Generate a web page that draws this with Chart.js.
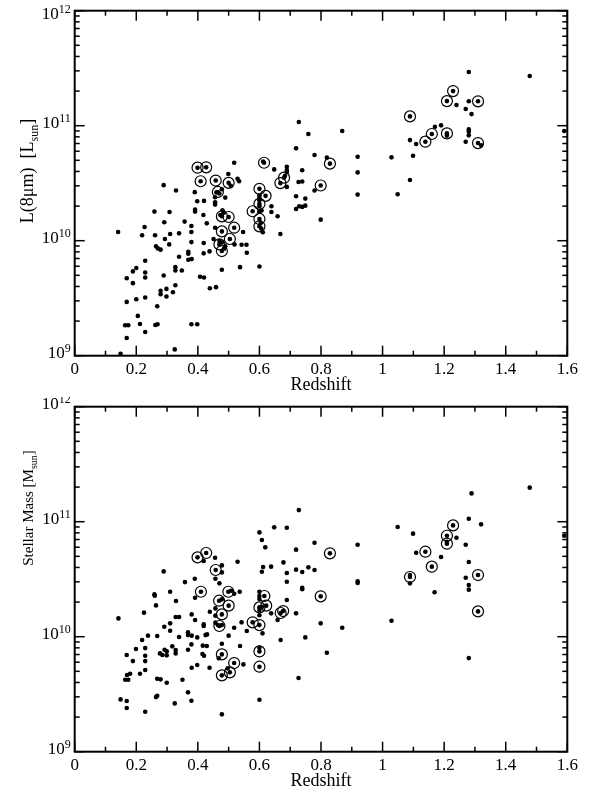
<!DOCTYPE html>
<html><head><meta charset="utf-8">
<script src="https://cdn.jsdelivr.net/npm/chart.js@4/dist/chart.umd.min.js"></script>
<style>
html,body{margin:0;padding:0;background:#fff;}
#wrap{position:relative;width:593px;height:794px;background:#fff;}
canvas{position:absolute;left:0;}
</style></head><body>
<div id="wrap">
<canvas id="c1" width="593" height="397" style="top:0px"></canvas>
<canvas id="c2" width="593" height="397" style="top:397px"></canvas>
</div>
<script>
// ---------- data ----------
const xTickValues = [0, 0.2, 0.4, 0.6, 0.8, 1, 1.2, 1.4, 1.6];
const xTickLabels = ['0', '0.2', '0.4', '0.6', '0.8', '1', '1.2', '1.4', '1.6'];
const xMinorValues = [0.1, 0.3, 0.5, 0.7, 0.9, 1.1, 1.3, 1.5];
const yDecadeExponents = [9, 10, 11, 12];
const xTitle = 'Redshift';

// [redshift, log10 L(8um)/Lsun] ; all galaxies (dots)
const lumDots = [
[0.518,10.678],[0.499,10.580],[0.529,10.539],[0.612,10.688],[0.648,10.620],[0.689,10.643],[0.689,10.614],[0.689,10.597],[0.683,10.565],
[0.728,11.032],[0.759,10.928],[0.719,10.803],[0.779,10.745],[0.739,10.612],[0.727,10.510],[0.739,10.515],[0.869,10.954],[0.819,10.722],
[0.919,10.730],[0.919,10.594],[1.029,10.725],[1.089,10.875],[1.109,10.841],[1.099,10.739],[1.089,10.528],[1.170,10.991],[1.190,11.003],
[1.240,11.180],[1.209,10.914],[1.280,11.467],[1.280,11.212],[1.270,11.145],[1.289,11.101],[1.280,10.968],[1.280,10.948],[1.280,10.916],
[1.270,10.861],[1.320,10.829],[1.478,11.432],[1.590,10.954],[0.779,10.436],[0.749,10.366],[0.749,10.305],[0.739,10.294],[0.799,10.183],
[0.919,10.401],[1.049,10.404],[0.289,10.483],[0.329,10.436],[0.390,10.422],[0.507,10.477],[0.534,10.517],[0.460,10.420],[0.478,10.448],
[0.470,10.410],[0.456,10.378],[0.489,10.375],[0.398,10.343],[0.420,10.346],[0.391,10.270],[0.391,10.253],[0.259,10.253],[0.308,10.250],
[0.418,10.224],[0.456,10.314],[0.456,10.334],[0.480,10.264],[0.484,10.244],[0.429,10.151],[0.456,10.113],[0.473,10.224],[0.357,10.166],
[0.379,10.128],[0.379,10.076],[0.291,10.160],[0.310,10.058],[0.339,10.064],[0.293,10.015],[0.307,9.968],[0.264,9.951],[0.270,9.933],
[0.279,9.922],[0.227,10.119],[0.219,10.047],[0.141,10.076],[0.261,10.047],[0.379,9.988],[0.419,9.980],[0.419,9.890],[0.438,9.907],
[0.470,9.997],[0.478,9.985],[0.489,9.951],[0.485,9.930],[0.451,10.015],[0.519,9.968],[0.547,10.076],[0.542,9.965],[0.558,9.965],
[0.559,9.895],[0.537,9.770],[0.478,9.747],[0.369,9.904],[0.369,9.887],[0.369,9.834],[0.380,9.840],[0.339,9.860],[0.229,9.826],
[0.327,9.770],[0.327,9.741],[0.348,9.741],[0.229,9.724],[0.229,9.680],[0.200,9.762],[0.189,9.733],[0.169,9.674],[0.189,9.631],
[0.289,9.698],[0.407,9.686],[0.420,9.680],[0.327,9.613],[0.298,9.581],[0.279,9.564],[0.279,9.535],[0.319,9.552],[0.298,9.515],
[0.439,9.587],[0.459,9.596],[0.229,9.506],[0.200,9.491],[0.169,9.468],[0.268,9.430],[0.205,9.346],[0.212,9.276],[0.229,9.206],
[0.164,9.265],[0.174,9.265],[0.262,9.267],[0.269,9.273],[0.379,9.273],[0.398,9.273],[0.169,9.154],[0.325,9.055],[0.149,9.017],
[0.600,10.392],[0.600,10.372],[0.600,10.352],[0.600,10.300],[0.600,10.253],[0.607,10.262],[0.604,10.155],[0.600,9.776],[0.611,10.073],
[0.606,10.105],[0.639,10.299],[0.639,10.250],[0.659,10.212],[0.668,10.058],[0.689,10.468],[0.719,10.387],[0.719,10.276],[0.729,10.299]
];
// [redshift, log10 L(8um)/Lsun] ; circled galaxies
const lumRings = [
[0.399,10.635],[0.427,10.638],[0.615,10.678],[0.680,10.548],[0.668,10.501],[0.829,10.670],[1.089,11.081],[1.139,10.861],[1.160,10.928],
[1.209,11.214],[1.229,11.301],[1.209,10.933],[1.310,11.212],[1.310,10.849],[0.799,10.480],[0.409,10.517],[0.458,10.523],[0.500,10.503],
[0.465,10.424],[0.478,10.212],[0.500,10.206],[0.478,10.081],[0.518,10.113],[0.504,10.015],[0.470,9.968],[0.478,9.910],[0.600,10.451],
[0.600,10.320],[0.578,10.256],[0.600,10.189],[0.600,10.125],[0.620,10.390]
];
// [redshift, log10 M*/Msun] ; all galaxies (dots)
const massDots = [
[0.728,11.101],[0.600,10.907],[0.608,10.841],[0.619,10.777],[0.648,10.951],[0.689,10.948],[0.779,10.817],[0.719,10.757],[0.419,10.658],
[0.456,10.687],[0.478,10.620],[0.478,10.559],[0.529,10.652],[0.289,10.568],[0.612,10.606],[0.638,10.609],[0.608,10.565],[0.678,10.646],
[0.689,10.554],[0.719,10.583],[0.739,10.562],[0.759,10.603],[0.779,10.580],[0.919,10.800],[1.049,10.954],[1.099,10.896],[1.109,10.730],
[1.190,10.693],[1.209,10.826],[1.240,10.861],[1.270,10.800],[1.280,11.026],[1.289,11.246],[1.320,10.977],[1.280,10.649],[1.270,10.513],
[1.089,10.536],[1.089,10.464],[1.478,11.296],[1.590,10.878],[0.739,10.426],[0.739,10.412],[0.919,10.481],[0.919,10.467],[1.169,10.386],
[1.280,10.449],[1.280,10.409],[0.799,10.116],[0.869,10.078],[1.029,10.139],[0.749,9.994],[0.819,9.861],[1.280,9.814],[0.727,9.641],
[0.358,10.475],[0.390,10.504],[0.457,10.504],[0.470,10.464],[0.508,10.400],[0.518,10.374],[0.536,10.391],[0.310,10.391],[0.259,10.368],
[0.260,10.356],[0.329,10.310],[0.264,10.272],[0.225,10.209],[0.391,10.339],[0.380,10.194],[0.391,10.145],[0.478,10.325],[0.457,10.246],
[0.457,10.183],[0.439,10.217],[0.465,10.102],[0.478,10.102],[0.457,10.122],[0.419,10.107],[0.419,10.093],[0.430,10.020],[0.425,10.014],
[0.328,10.171],[0.339,10.171],[0.310,10.116],[0.291,10.087],[0.310,10.052],[0.339,9.997],[0.268,10.006],[0.368,10.038],[0.368,10.014],
[0.380,10.009],[0.398,9.994],[0.416,9.922],[0.429,9.919],[0.142,10.159],[0.219,9.971],[0.238,10.009],[0.199,9.893],[0.229,9.901],
[0.229,9.835],[0.229,9.788],[0.229,9.710],[0.189,9.788],[0.169,9.841],[0.180,9.678],[0.212,9.678],[0.170,9.667],[0.164,9.626],
[0.174,9.626],[0.317,9.916],[0.277,9.855],[0.285,9.841],[0.292,9.887],[0.299,9.838],[0.299,9.873],[0.328,9.884],[0.328,9.855],
[0.368,9.887],[0.379,9.933],[0.415,9.849],[0.420,9.835],[0.380,9.730],[0.398,9.754],[0.350,9.626],[0.268,9.635],[0.279,9.629],
[0.299,9.600],[0.264,9.475],[0.268,9.487],[0.368,9.516],[0.379,9.443],[0.325,9.420],[0.149,9.455],[0.169,9.441],[0.169,9.380],
[0.229,9.348],[0.478,9.325],[0.438,9.730],[0.478,9.939],[0.468,9.812],[0.497,9.725],[0.548,9.759],[0.537,9.919],[0.500,10.009],
[0.518,10.078],[0.542,10.125],[0.559,10.049],[0.600,9.904],[0.600,9.452],[0.610,10.029],[0.600,10.391],[0.600,10.354],[0.600,10.328],
[0.600,10.232],[0.609,10.261],[0.600,10.186],[0.638,10.203],[0.659,10.145],[0.669,9.971],[0.689,10.319],[0.689,10.478],[0.719,10.203]
];
// [redshift, log10 M*/Msun] ; circled galaxies
const massRings = [
[0.399,10.690],[0.427,10.728],[0.458,10.580],[0.829,10.725],[1.139,10.739],[1.160,10.609],[1.209,10.878],[1.209,10.809],[1.229,10.968],
[1.310,10.536],[1.089,10.519],[0.799,10.351],[1.310,10.220],[0.410,10.391],[0.499,10.391],[0.469,10.313],[0.478,10.194],[0.500,10.270],
[0.470,10.093],[0.478,9.846],[0.478,9.664],[0.504,9.690],[0.518,9.771],[0.578,10.125],[0.600,10.101],[0.600,9.872],[0.600,9.739],
[0.600,10.255],[0.616,10.354],[0.622,10.270],[0.669,10.206],[0.677,10.223]
];
const lumTitle = [['L(8\u03bcm)  [L', 18, 0], ['sun', 12, 5], [']', 18, 0]];
const massTitle = [['Stellar Mass [M', 15, 0], ['sun', 10, 4], [']', 15, 0]];

// ---------- drawing ----------
const FONT = '"Liberation Serif", "Times New Roman", serif';

function line(ctx, x1, y1, x2, y2) {
  ctx.beginPath(); ctx.moveTo(x1, y1); ctx.lineTo(x2, y2); ctx.stroke();
}

function makeAxesPlugin(titlePieces, titleCenterY, topClamp) {
  return {
    id: 'graceAxes',
    afterDraw(chart) {
      const ctx = chart.ctx, a = chart.chartArea, xs = chart.scales.x, ys = chart.scales.y;
      ctx.save();
      ctx.strokeStyle = '#000'; ctx.fillStyle = '#000';
      ctx.lineWidth = 1.5;
      xTickValues.forEach(v => {
        const px = xs.getPixelForValue(v);
        line(ctx, px, a.bottom, px, a.bottom - 10);
        line(ctx, px, a.top, px, a.top + 10);
      });
      xMinorValues.forEach(v => {
        const px = xs.getPixelForValue(v);
        line(ctx, px, a.bottom, px, a.bottom - 5);
        line(ctx, px, a.top, px, a.top + 5);
      });
      yDecadeExponents.forEach((e, i) => {
        const py = ys.getPixelForValue(Math.pow(10, e));
        line(ctx, a.left, py, a.left + 10, py);
        line(ctx, a.right, py, a.right - 10, py);
        if (i < yDecadeExponents.length - 1) {
          for (let m = 2; m <= 9; m++) {
            const pm = ys.getPixelForValue(m * Math.pow(10, e));
            line(ctx, a.left, pm, a.left + 5, pm);
            line(ctx, a.right, pm, a.right - 5, pm);
          }
        }
      });
      ctx.lineWidth = 2;
      ctx.strokeRect(a.left, a.top, a.right - a.left, a.bottom - a.top);
      ctx.font = '17px ' + FONT;
      ctx.textAlign = 'center'; ctx.textBaseline = 'alphabetic';
      xTickValues.forEach((v, i) => {
        ctx.fillText(xTickLabels[i], xs.getPixelForValue(v), a.bottom + 18);
      });
      ctx.font = '18px ' + FONT;
      ctx.fillText(xTitle, (a.left + a.right) / 2, a.bottom + 34);
      ctx.textAlign = 'left';
      yDecadeExponents.forEach(e => {
        const py = ys.getPixelForValue(Math.pow(10, e));
        const base = Math.max(py + 2, topClamp);
        ctx.font = '12px ' + FONT;
        const sw = ctx.measureText(String(e)).width;
        ctx.font = '17px ' + FONT;
        const bw = ctx.measureText('10').width;
        const right = a.left - 4;
        ctx.fillText('10', right - sw - bw, base);
        ctx.font = '12px ' + FONT;
        ctx.fillText(String(e), right - sw, base - 6);
      });
      ctx.save();
      ctx.translate(33, titleCenterY);
      ctx.rotate(-Math.PI / 2);
      let total = 0;
      titlePieces.forEach(p => { ctx.font = p[1] + 'px ' + FONT; total += ctx.measureText(p[0]).width; });
      let cx = -total / 2;
      titlePieces.forEach(p => {
        ctx.font = p[1] + 'px ' + FONT;
        ctx.fillText(p[0], cx, p[2]);
        cx += ctx.measureText(p[0]).width;
      });
      ctx.restore();
      ctx.restore();
    }
  };
}

function toPoints(list) { return list.map(p => ({ x: p[0], y: Math.pow(10, p[1]) })); }

function makeChart(id, dots, rings, titlePieces, titleCenterY, padTop, padBottom, topClamp) {
  return new Chart(document.getElementById(id), {
    type: 'scatter',
    data: {
      datasets: [
        { data: toPoints(dots.concat(rings)), pointRadius: 2.3, pointHoverRadius: 2.3,
          pointBackgroundColor: '#000', pointBorderColor: '#000', pointBorderWidth: 0, clip: false },
        { data: toPoints(rings), pointRadius: 5.5, pointHoverRadius: 5.5,
          pointBackgroundColor: 'rgba(0,0,0,0)', pointBorderColor: '#000', pointBorderWidth: 1.2, clip: false }
      ]
    },
    options: {
      responsive: false, animation: false, devicePixelRatio: 1, events: [],
      layout: { padding: { left: 74.7, right: 25.7, top: padTop, bottom: padBottom } },
      plugins: { legend: { display: false }, tooltip: { enabled: false }, title: { display: false } },
      scales: {
        x: { type: 'linear', min: 0, max: 1.6, display: false },
        y: { type: 'logarithmic', min: 1e9, max: 1e12, display: false }
      }
    },
    plugins: [makeAxesPlugin(titlePieces, titleCenterY, topClamp)]
  });
}

makeChart('c1', lumDots, lumRings, lumTitle, 171, 10.7, 41.3, 18.5);
makeChart('c2', massDots, massRings, massTitle, 111, 9.7, 42.3, 0);
</script>
</body></html>
